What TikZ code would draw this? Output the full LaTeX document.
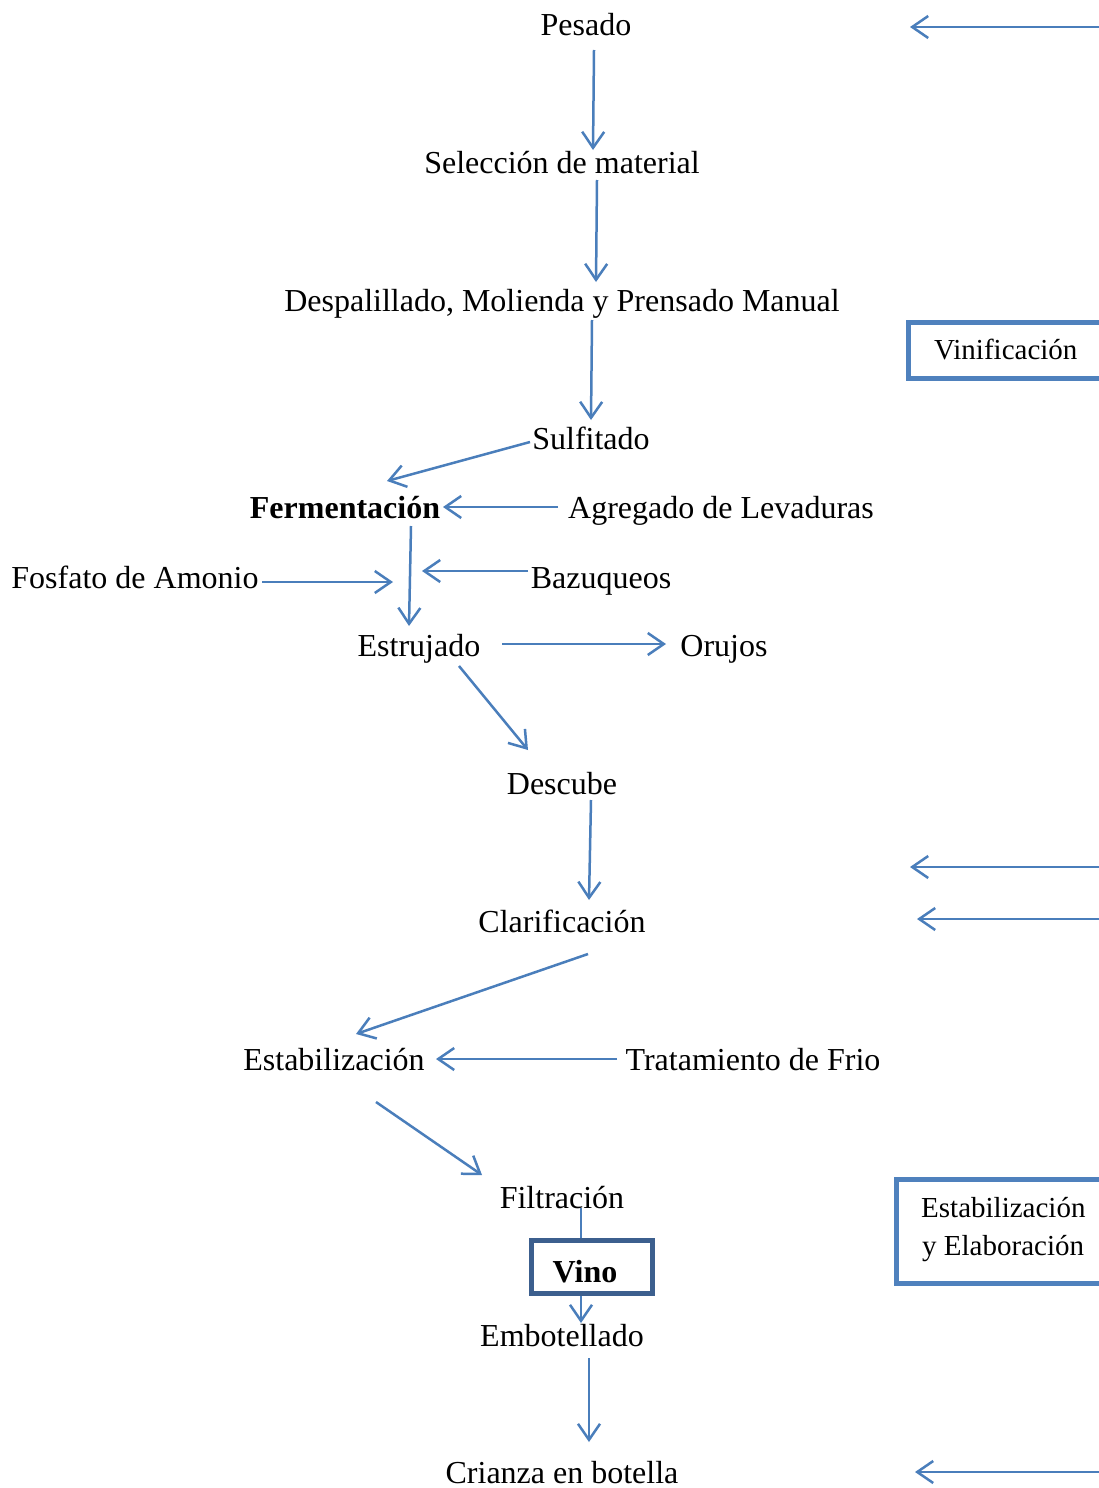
\documentclass[tikz,border=0pt]{standalone}
\usepackage{fontspec}
\setmainfont{Liberation Serif}
\usetikzlibrary{arrows.meta}
\definecolor{arr}{HTML}{4A7EBB}
\definecolor{bx}{HTML}{4F81BD}
\definecolor{vbx}{HTML}{3C5F8E}
\begin{document}
\begin{tikzpicture}[x=1pt,y=-1pt,
  lbl/.style={anchor=base,inner sep=0pt,font=\fontsize{32}{36}\selectfont},
  blbl/.style={lbl,font=\fontsize{32}{36}\selectfont\bfseries},
  sbl/.style={anchor=base west,inner sep=0pt,font=\fontsize{29}{33}\selectfont},
  flow/.style={draw=arr,line width=2.5pt,-{Straight Barb[length=16pt,width=22pt,line width=2.5pt]}},
  plain/.style={draw=arr,line width=2.5pt},
  sidebox/.style={draw=bx,line width=5pt},
  vinobox/.style={draw=vbx,line width=5pt}]
\useasboundingbox (0,0) rectangle (1099,1488);
\clip (0,0) rectangle (1099,1488);
\fill[white] (0,0) rectangle (1099,1488);

% labels
\node[lbl] (pes) at (586,36) {Pesado};
\node[lbl] (sel) at (562,173) {Selección de material};
\node[lbl] (des) at (562,311) {Despalillado, Molienda y Prensado Manual};
\node[lbl] (sul) at (591,449) {Sulfitado};
\node[blbl] (fer) at (345,518) {Fermentación};
\node[lbl] (agr) at (721,518) {Agregado de Levaduras};
\node[lbl] (fos) at (135,588) {Fosfato de Amonio};
\node[lbl] (baz) at (601,588) {Bazuqueos};
\node[lbl] (est) at (419,656) {Estrujado};
\node[lbl] (oru) at (724,656) {Orujos};
\node[lbl] (dsc) at (562,794) {Descube};
\node[lbl] (cla) at (562,932) {Clarificación};
\node[lbl] (stb) at (334,1070) {Estabilización};
\node[lbl] (tra) at (753,1070) {Tratamiento de Frio};
\node[lbl] (fil) at (562,1208) {Filtración};
\node[lbl] (emb) at (562,1346) {Embotellado};
\node[lbl] (cri) at (562,1483) {Crianza en botella};

% Vino box
\draw[vinobox] (531.5,1240.5) rectangle (652.5,1293.5);
\node[blbl] (vino) at (585,1282) {Vino};

% side boxes
\draw[sidebox] (908.5,322) rectangle (1110,378);
\node[sbl] (vin) at (934,359) {Vinificación};
\draw[sidebox] (896.5,1179.5) rectangle (1110,1283);
\node[sbl] (eye1) at (921,1217) {Estabilización};
\node[sbl] (eye2) at (922,1255) {y Elaboración};

% connector end points
\coordinate (a1) at (594,50);   \coordinate (a2) at (593,150);
\coordinate (b1) at (597,180);  \coordinate (b2) at (596,282);
\coordinate (c1) at (592,320);  \coordinate (c2) at (591,420);
\coordinate (d1) at (530,442);  \coordinate (d2) at (387,481);
\coordinate (e1) at (558,507);  \coordinate (e2) at (443,507);
\coordinate (f1) at (411,526);  \coordinate (f2) at (409,626);
\coordinate (g1) at (262,582);  \coordinate (g2) at (393,582);
\coordinate (h1) at (528,571);  \coordinate (h2) at (422,571);
\coordinate (i1) at (502,644);  \coordinate (i2) at (666,644);
\coordinate (j1) at (459,666);  \coordinate (j2) at (528,750);
\coordinate (k1) at (591,800);  \coordinate (k2) at (589,900);
\coordinate (l1) at (588,954);  \coordinate (l2) at (356,1034);
\coordinate (m1) at (617,1059); \coordinate (m2) at (436,1059);
\coordinate (n1) at (376,1102); \coordinate (n2) at (482,1175);
\coordinate (o1) at (581,1208); \coordinate (o2) at (581,1238);
\coordinate (p1) at (581,1296); \coordinate (p2) at (581,1323);
\coordinate (q1) at (589,1358); \coordinate (q2) at (589,1442);
\coordinate (r1) at (1110,27);   \coordinate (r2) at (910,27);
\coordinate (s1) at (1110,867);  \coordinate (s2) at (910,867);
\coordinate (t1) at (1110,919);  \coordinate (t2) at (917,919);
\coordinate (u1) at (1110,1472); \coordinate (u2) at (915,1472);

\draw[flow] (a1) -- (a2);
\draw[flow] (b1) -- (b2);
\draw[flow] (c1) -- (c2);
\draw[flow] (d1) -- (d2);
\draw[flow] (e1) -- (e2);
\draw[flow] (f1) -- (f2);
\draw[flow] (g1) -- (g2);
\draw[flow] (h1) -- (h2);
\draw[flow] (i1) -- (i2);
\draw[flow] (j1) -- (j2);
\draw[flow] (k1) -- (k2);
\draw[flow] (l1) -- (l2);
\draw[flow] (m1) -- (m2);
\draw[flow] (n1) -- (n2);
\draw[plain] (o1) -- (o2);
\draw[flow] (p1) -- (p2);
\draw[flow] (q1) -- (q2);
\draw[flow] (r1) -- (r2);
\draw[flow] (s1) -- (s2);
\draw[flow] (t1) -- (t2);
\draw[flow] (u1) -- (u2);
\end{tikzpicture}
\end{document}
